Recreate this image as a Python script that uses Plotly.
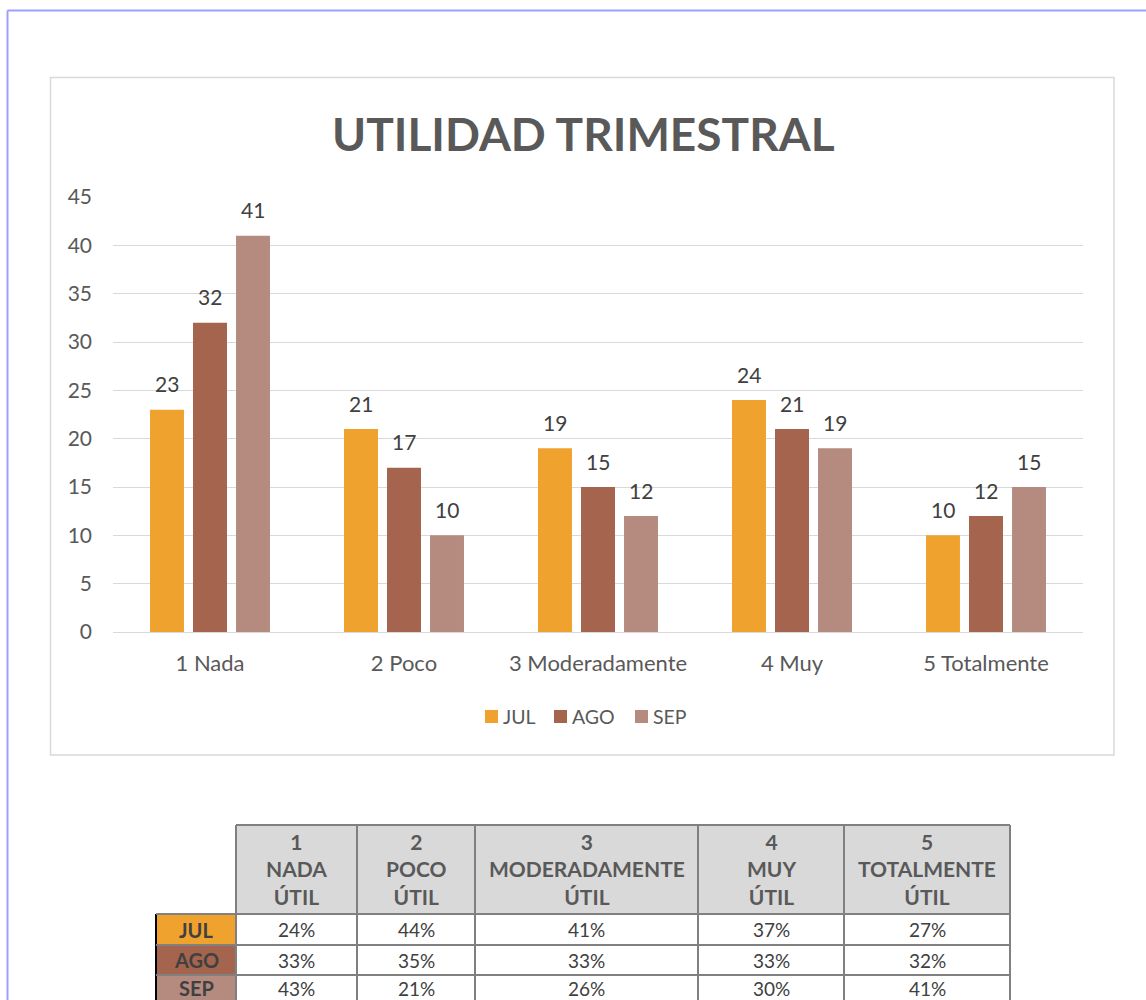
import plotly.graph_objects as go

# ---------------- data ----------------
categories = ["1 Nada", "2 Poco", "3 Moderadamente", "4 Muy", "5 Totalmente"]
series_names = ["JUL", "AGO", "SEP"]
jul = [23, 21, 19, 24, 10]
ago = [32, 17, 15, 21, 12]
sep = [41, 10, 12, 19, 15]
y_ticks = [0, 5, 10, 15, 20, 25, 30, 35, 40, 45]

table_headers = ["1<br>NADA<br>ÚTIL", "2<br>POCO<br>ÚTIL", "3<br>MODERADAMENTE<br>ÚTIL",
                 "4<br>MUY<br>ÚTIL", "5<br>TOTALMENTE<br>ÚTIL"]
table_jul = ["24%", "44%", "41%", "37%", "27%"]
table_ago = ["33%", "35%", "33%", "33%", "32%"]
table_sep = ["43%", "21%", "26%", "30%", "41%"]

# ---------------- style ----------------
W, H = 1146, 1000
colors = ["#F0A22E", "#A5644E", "#B58B80"]
FONT = "Lato"
TXT = "#595959"
DARK = "#404040"
GRID = "#D9D9D9"


def px(x):
    return x / W


def py(y):
    return 1 - y / H


def ann(x, y, text, size, color, xanchor="center", yanchor="middle", **kw):
    return dict(x=x, y=y, xref="paper", yref="paper", text=text, showarrow=False,
                xanchor=xanchor, yanchor=yanchor, font=dict(family=FONT, size=size, color=color), **kw)


fig = go.Figure()
values = [jul, ago, sep]
xs = list(range(len(categories)))
for name, vals, col in zip(series_names, values, colors):
    fig.add_trace(go.Bar(x=xs, y=vals, name=name, marker=dict(color=col, line=dict(width=0)),
                         showlegend=False))

bargap = 0.335
bargroupgap = 0.21
slot = (1 - bargap) / 3

annotations = []
shapes = []
# data labels
for k, vals in enumerate(values):
    for i, v in enumerate(vals):
        annotations.append(dict(x=i + (k - 1) * slot, y=v, xref="x", yref="y", text=str(v),
                                showarrow=False, xanchor="center", yanchor="middle", yshift=26,
                                font=dict(family=FONT, size=21, color=DARK)))

# title
annotations.append(ann(px(583), py(133), "<b>UTILIDAD TRIMESTRAL</b>", 46, TXT))

# outer blue frame
shapes.append(dict(type="line", xref="paper", yref="paper", x0=px(7.5), x1=px(7.5), y0=py(10.5), y1=0,
                   line=dict(color="#9E9EFF", width=2)))
shapes.append(dict(type="line", xref="paper", yref="paper", x0=px(7.5), x1=1, y0=py(10.5), y1=py(10.5),
                   line=dict(color="#9E9EFF", width=2)))
# chart box
shapes.append(dict(type="rect", xref="paper", yref="paper", x0=px(50.5), x1=px(1114), y0=py(77.5), y1=py(755),
                   line=dict(color=GRID, width=1.5)))

# custom legend
leg_x = [485, 554, 635]
for name, col, lx in zip(series_names, colors, leg_x):
    shapes.append(dict(type="rect", xref="paper", yref="paper", x0=px(lx), x1=px(lx + 13),
                       y0=py(723), y1=py(710), fillcolor=col, line=dict(width=0)))
    annotations.append(ann(px(lx + 16), py(716.5), name, 19.5, TXT, xanchor="left"))

# ---------------- table ----------------
col_edges = [236, 357, 475, 698, 844, 1010]
row_edges = [825, 914, 945, 975, 1006]
row_text_y = [929.5, 960, 988]
label_left = 156
BORDER = "#808080"
# header background
shapes.append(dict(type="rect", xref="paper", yref="paper", x0=px(col_edges[0]), x1=px(col_edges[-1]),
                   y0=py(row_edges[0]), y1=py(row_edges[1]), fillcolor="#D9D9D9", line=dict(width=0),
                   layer="below"))
# row label cells
for r, (name, col) in enumerate(zip(series_names, colors)):
    shapes.append(dict(type="rect", xref="paper", yref="paper", x0=px(label_left), x1=px(col_edges[0]),
                       y0=py(row_edges[r + 1]), y1=py(row_edges[r + 2]), fillcolor=col,
                       line=dict(width=0), layer="below"))
    annotations.append(ann(px((label_left + col_edges[0]) / 2), py(row_text_y[r]),
                           "<b>%s</b>" % name, 20, DARK))
# black left edge of label column
shapes.append(dict(type="line", xref="paper", yref="paper", x0=px(label_left), x1=px(label_left),
                   y0=py(row_edges[1]), y1=0, line=dict(color="black", width=2)))
# horizontal lines
shapes.append(dict(type="line", xref="paper", yref="paper", x0=px(col_edges[0]), x1=px(col_edges[-1]),
                   y0=py(row_edges[0]), y1=py(row_edges[0]), line=dict(color=BORDER, width=2)))
for ry in row_edges[1:4]:
    shapes.append(dict(type="line", xref="paper", yref="paper", x0=px(label_left), x1=px(col_edges[-1]),
                       y0=py(ry), y1=py(ry), line=dict(color=BORDER, width=2)))
# vertical lines
for cx in col_edges:
    shapes.append(dict(type="line", xref="paper", yref="paper", x0=px(cx), x1=px(cx),
                       y0=py(row_edges[0]), y1=0, line=dict(color=BORDER, width=2)))
# header text
for c, htxt in enumerate(table_headers):
    annotations.append(ann(px((col_edges[c] + col_edges[c + 1]) / 2), py(869),
                           "<b>%s</b>" % htxt, 21, TXT))
# body text
for r, row in enumerate([table_jul, table_ago, table_sep]):
    for c, t in enumerate(row):
        annotations.append(ann(px((col_edges[c] + col_edges[c + 1]) / 2), py(row_text_y[r]), t, 19, DARK))

fig.update_layout(
    width=W, height=H,
    margin=dict(l=0, r=0, t=0, b=0, autoexpand=False),
    paper_bgcolor="white", plot_bgcolor="white",
    barmode="group", bargap=bargap, bargroupgap=bargroupgap,
    showlegend=False,
    annotations=annotations, shapes=shapes,
    xaxis=dict(domain=[px(113), px(1083)], range=[-0.5, 4.5], tickmode="array", tickvals=xs,
               ticktext=categories, showgrid=False, zeroline=False, showline=False, ticks="",
               ticklabelstandoff=16, tickfont=dict(family=FONT, size=22, color=TXT), fixedrange=True),
    yaxis=dict(domain=[py(632), py(197)], range=[0, 45], tickmode="array", tickvals=y_ticks,
               showgrid=True, gridcolor=GRID, gridwidth=1, zeroline=True, zerolinecolor=GRID,
               zerolinewidth=1, showline=False, ticks="", ticklabelstandoff=20,
               tickfont=dict(family=FONT, size=21, color=TXT), fixedrange=True),
)

fig.write_html("out.html", config={"displayModeBar": False},
               post_script="document.body.style.margin='0';document.body.style.overflow='hidden';")
